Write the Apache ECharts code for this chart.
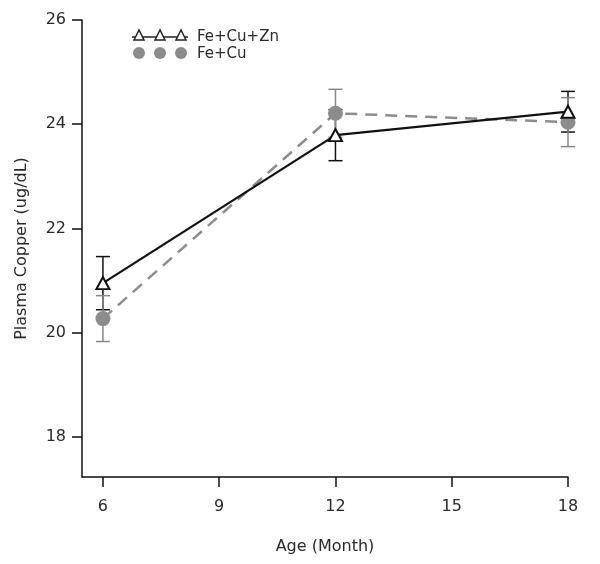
<!DOCTYPE html>
<html>
<head>
<meta charset="utf-8">
<script src="https://cdn.jsdelivr.net/npm/echarts@6/dist/echarts.min.js"></script>
<style>html,body{margin:0;padding:0;background:#fff}#c{width:600px;height:564px}</style>
</head>
<body>
<div id="c"></div>
<script>
var ages = [6, 12, 18];
var xTicks = [6, 9, 12, 15, 18];
var yTicks = [18, 20, 22, 24, 26];
var feCuZn = [20.95, 23.79, 24.24];
var feCuZnErr = [0.51, 0.49, 0.39];
var feCu = [20.27, 24.21, 24.04];
var feCuErr = [0.44, 0.46, 0.47];

var FONT = 'DejaVu Sans';
var chart = echarts.init(document.getElementById('c'));

function errData(vals, errs) {
  return ages.map(function (a, i) { return [a, vals[i] - errs[i], vals[i] + errs[i]]; });
}
function errRender(color) {
  return function (params, api) {
    var x = api.value(0);
    var lo = api.coord([x, api.value(1)]);
    var hi = api.coord([x, api.value(2)]);
    var w = 7;
    var st = { stroke: color, lineWidth: 1.5, fill: null };
    return {
      type: 'group',
      children: [
        { type: 'line', shape: { x1: lo[0], y1: lo[1], x2: hi[0], y2: hi[1] }, style: st },
        { type: 'line', shape: { x1: lo[0] - w, y1: lo[1], x2: lo[0] + w, y2: lo[1] }, style: st },
        { type: 'line', shape: { x1: hi[0] - w, y1: hi[1], x2: hi[0] + w, y2: hi[1] }, style: st }
      ]
    };
  };
}
function pts(vals) { return ages.map(function (a, i) { return [a, vals[i]]; }); }

var axisLine = { show: true, onZero: false, lineStyle: { color: '#111', width: 1.5 } };
var option = {
  animation: false,
  backgroundColor: '#fff',
  grid: { left: 82, right: 32, top: 20, bottom: 87 },
  xAxis: {
    type: 'value', min: 5.46, max: 18,
    name: 'Age (Month)', nameLocation: 'middle', nameGap: 62,
    nameTextStyle: { fontFamily: FONT, fontSize: 16, color: '#2a2a2a' },
    axisLine: axisLine,
    axisTick: { show: true, length: 10, lineStyle: { color: '#111', width: 1.5 }, customValues: xTicks },
    axisLabel: { customValues: xTicks, margin: 22, fontFamily: FONT, fontSize: 16, color: '#2a2a2a' },
    splitLine: { show: false }
  },
  yAxis: {
    type: 'value', min: 17.23, max: 26,
    name: 'Plasma Copper (ug/dL)', nameLocation: 'middle', nameGap: 52,
    nameTextStyle: { fontFamily: FONT, fontSize: 16, color: '#2a2a2a' },
    axisLine: axisLine,
    axisTick: { show: true, length: 10, lineStyle: { color: '#111', width: 1.5 }, customValues: yTicks },
    axisLabel: { customValues: yTicks, margin: 16, fontFamily: FONT, fontSize: 16, color: '#2a2a2a' },
    splitLine: { show: false }
  },
  series: [
    { type: 'custom', name: 'errZn', data: errData(feCuZn, feCuZnErr), renderItem: errRender('#111'), z: 2 },
    { type: 'custom', name: 'errCu', data: errData(feCu, feCuErr), renderItem: errRender('#888'), z: 2 },
    {
      type: 'line', name: 'Fe+Cu', data: pts(feCu), z: 3,
      lineStyle: { color: '#8c8c8c', width: 2.5, type: [12, 8] },
      symbol: 'circle', symbolSize: 15,
      itemStyle: { color: '#8c8c8c', borderWidth: 0 }
    },
    {
      type: 'line', name: 'Fe+Cu+Zn', data: pts(feCuZn), z: 4,
      lineStyle: { color: '#111', width: 2.2 },
      symbol: 'triangle', symbolSize: [13, 12],
      itemStyle: { color: '#fff', borderColor: '#111', borderWidth: 2 }
    }
  ],
  graphic: [
    { type: 'line', shape: { x1: 132, y1: 37, x2: 188, y2: 37 }, style: { stroke: '#222', lineWidth: 1.5 } },
    { type: 'polygon', shape: { points: [[139, 30], [134, 40], [144, 40]] }, style: { fill: '#fff', stroke: '#222', lineWidth: 1.5 } },
    { type: 'polygon', shape: { points: [[160, 30], [155, 40], [165, 40]] }, style: { fill: '#fff', stroke: '#222', lineWidth: 1.5 } },
    { type: 'polygon', shape: { points: [[181, 30], [176, 40], [186, 40]] }, style: { fill: '#fff', stroke: '#222', lineWidth: 1.5 } },
    { type: 'circle', shape: { cx: 139, cy: 53, r: 6 }, style: { fill: '#8c8c8c' } },
    { type: 'circle', shape: { cx: 160, cy: 53, r: 6 }, style: { fill: '#8c8c8c' } },
    { type: 'circle', shape: { cx: 181, cy: 53, r: 6 }, style: { fill: '#8c8c8c' } },
    { type: 'text', left: 197, top: 30, style: { text: 'Fe+Cu+Zn', font: '15px "DejaVu Sans"', fill: '#2a2a2a' } },
    { type: 'text', left: 197, top: 47, style: { text: 'Fe+Cu', font: '15px "DejaVu Sans"', fill: '#2a2a2a' } }
  ]
};
chart.setOption(option);
</script>
</body>
</html>
